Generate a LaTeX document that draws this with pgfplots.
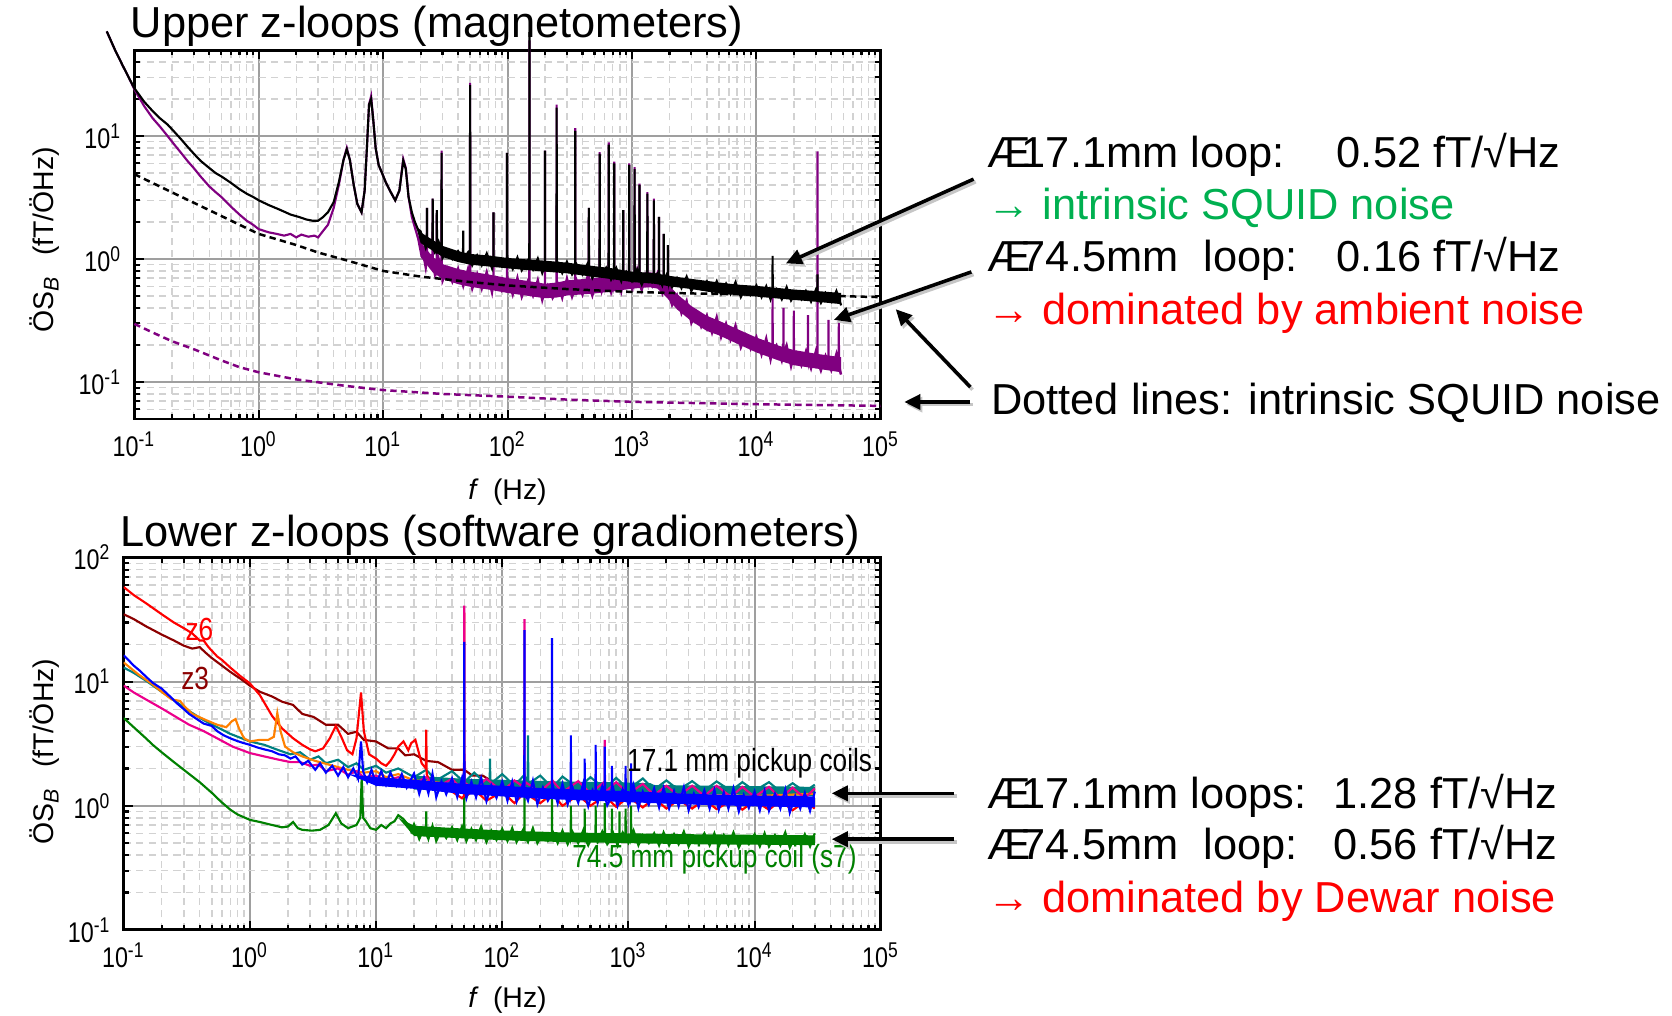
\documentclass[border=0pt]{standalone}
\usepackage{fontspec}
\setmainfont{Liberation Sans}
\newfontfamily\narrowfont[FakeStretch=0.82]{Liberation Sans}
\usepackage{pgfplots}
\pgfplotsset{compat=1.18}
\usetikzlibrary{arrows.meta}
\definecolor{upurple}{RGB}{128,0,128}
\definecolor{dkred}{RGB}{140,0,0}
\definecolor{tealc}{RGB}{0,128,128}
\definecolor{orangec}{RGB}{255,128,0}
\definecolor{greenc}{RGB}{0,128,0}
\definecolor{txtgreen}{RGB}{0,176,80}
\newcommand\bigf{\fontsize{12.2pt}{14pt}\selectfont}
\newcommand\labf{\fontsize{8pt}{9pt}\selectfont}
\begin{document}
\begin{tikzpicture}
%================ UPPER =================
\begin{axis}[at={(37.8pt,167.7pt)}, anchor=south west, scale only axis, width=210pt, height=103.8pt,
  xmode=log, ymode=log, xmin=0.1, xmax=1e5, ymin=0.05, ymax=50, clip=false,
  axis line style={line width=0.8pt}, grid=both,
  major grid style={draw=gray!75, line width=0.6pt},
  minor grid style={draw=gray!35, dash pattern=on 2pt off 1.5pt, line width=0.4pt},
  major tick length=2.6pt, minor tick length=1.5pt,
  tick style={black, line width=0.6pt},
  tick label style={font=\narrowfont\labf},
  log number format basis/.code 2 args={#1\textsuperscript{\pgfmathprintnumber[assume math mode=true]{#2}}}]
% 74.5 mm loop: noise band
\addplot[fill=upurple, draw=none] coordinates {(18,1.8) (20,1.38) (25,1.04) (30,0.91) (40,0.83) (50,0.79) (70,0.75) (100,0.70) (150,0.66) (200,0.63) (250,0.645) (300,0.67) (500,0.70) (700,0.72) (1000,0.76) (1400,0.78) (1600,0.76) (1900,0.645) (2300,0.52) (3000,0.415) (4000,0.345) (5000,0.315) (7000,0.27) (10000,0.23) (15000,0.198) (20000,0.182) (30000,0.17) (48000,0.159)
 (48000,0.12) (30000,0.129) (20000,0.137) (15000,0.15) (10000,0.174) (7000,0.205) (5000,0.24) (4000,0.26) (3000,0.313) (2300,0.39) (1900,0.487) (1600,0.575) (1400,0.59) (1000,0.575) (700,0.545) (500,0.525) (300,0.505) (250,0.487) (200,0.48) (150,0.5) (100,0.53) (70,0.565) (50,0.595) (40,0.625) (30,0.69) (25,0.78) (20,1.04)};
% 74.5 mm loop (purple)
\addplot[upurple, line width=0.6pt] coordinates {(0.06,71) (0.07,50) (0.08,38) (0.09,30) (0.1,24) (0.12,17.5) (0.14,14) (0.16,12) (0.185,10) (0.21,8.5) (0.24,7.2) (0.27,6.2) (0.3,5.5) (0.34,4.7) (0.4,3.9) (0.45,3.5) (0.5,3.2) (0.59,2.7) (0.7,2.3) (0.8,2.05) (0.9,1.9) (1,1.75) (1.2,1.65) (1.4,1.6) (1.6,1.55) (1.8,1.6) (2,1.5) (2.2,1.58) (2.5,1.52) (2.8,1.55) (3,1.5) (3.3,1.7) (3.6,1.9) (4,2.6) (4.4,4.0) (4.8,6.4) (5.1,8.0) (5.4,6.4) (5.8,4.0) (6.2,2.8) (6.7,2.4) (7.1,3.6) (7.4,8) (7.7,18) (8,21) (8.3,14) (8.7,8) (9.2,5.8) (9.8,5) (10.5,4.2) (11.5,3.5) (12.5,3.0) (13.5,3.6) (14.5,6.5) (15.2,5.5) (16,3.2) (17,2.2) (18,1.8) (19,1.5)
(20,1.44) (22,0.84) (22.4,0.95) (22.5,2.6) (22.6,0.95) (24,1.05) (24.9,0.9) (25,3.1) (25.1,0.9) (26,0.75) (26.9,0.85) (27,2.5) (27.1,0.85) (28,1.00) (29.4,0.8) (29.5,7.6) (29.6,0.8) (30,0.66) (33,0.84) (36,0.65) (40,0.84) (44,0.60) (48,0.83) (49.8,0.68) (50,27) (50.2,0.68) (52,0.57) (57,0.76) (62,0.57) (68,0.79) (75,0.53) (76.8,0.64) (77,2.4) (77.2,0.64) (82,0.69) (90,0.55) (98.7,0.61) (99,7.3) (99.3,0.61) (100,0.71) (110,0.51) (120,0.71) (130,0.49) (145,0.66) (149.5,0.58) (150,60) (150.5,0.58) (160,0.50) (175,0.68) (190,0.46) (199.4,0.55) (200,7.6) (200.6,0.55) (210,0.61) (230,0.48) (247.3,0.55) (248,18) (248.7,0.55) (250,0.66) (275,0.48) (300,0.70) (330,0.49) (349,0.58) (350,11.6) (351,0.58) (360,0.67) (400,0.51) (440,0.73) (448.7,0.6) (450,2.6) (451.3,0.6) (480,0.50) (520,0.67) (548.4,0.61) (550,7.4) (551.6,0.61) (570,0.54) (620,0.73) (648,0.62) (650,8.9) (652,0.62) (680,0.53) (718,0.63) (720,6.2) (722,0.63) (750,0.76) (820,0.54) (847.5,0.64) (850,2.5) (852.5,0.64) (900,0.74) (947,0.65) (950,6.0) (953,0.65) (1000,0.57) (1047,0.66) (1050,5.6) (1053,0.66) (1100,0.82) (1147,0.67) (1150,4.1) (1153,0.67) (1200,0.56) (1300,0.75) (1326,0.68) (1330,3.5) (1334,0.68) (1450,0.60) (1496,0.67) (1500,3.1) (1504,0.67) (1600,0.77) (1645,0.64) (1650,2.2) (1655,0.64) (1750,0.53) (1795,0.6) (1800,1.6) (1805,0.6) (1900,0.67) (1945,0.53) (1950,1.3) (1955,0.53) (2100,0.42) (2300,0.51) (2500,0.36) (2750,0.46) (3000,0.30) (3300,0.37) (3600,0.28) (4000,0.35) (4400,0.25) (4800,0.34) (5200,0.23) (5700,0.30) (6200,0.22) (6800,0.29) (7500,0.19) (8200,0.24) (9000,0.185) (10000,0.234) (11000,0.166) (12000,0.228) (13000,0.151) (13460,0.18) (13500,0.5) (13540,0.18) (14500,0.20) (16000,0.148) (16450,0.17) (16500,0.4) (16550,0.17) (17500,0.20) (19000,0.133) (19940,0.16) (20000,0.38) (20060,0.16) (21000,0.173) (23000,0.136) (25000,0.178) (25920,0.15) (26000,0.35) (26080,0.15) (27500,0.128) (30000,0.178) (30900,0.147) (31000,7.5) (31100,0.147) (33000,0.123) (36000,0.164) (37880,0.143) (38000,0.32) (38120,0.143) (40000,0.124) (44000,0.171) (45860,0.139) (46000,0.32) (46140,0.139) (48000,0.115)};
% intrinsic noise 17.1 mm (black dashed)
\addplot[black, line width=0.7pt, dash pattern=on 1.8pt off 1.2pt] coordinates {(0.1,4.9) (0.2,3.49) (0.3,2.87) (0.5,2.24) (0.7,1.9) (1,1.6) (2,1.3) (3,1.13) (5,0.98) (10,0.8) (20,0.72) (50,0.65) (100,0.61) (300,0.57) (1000,0.54) (3000,0.525) (10000,0.515) (30000,0.505) (100000,0.49)};
% 17.1 mm loop: noise band
\addplot[fill=black, draw=none] coordinates {(18,2.0) (20,1.65) (25,1.43) (30,1.28) (40,1.16) (50,1.1) (70,1.07) (100,1.02) (150,0.99) (200,0.97) (300,0.935) (500,0.875) (700,0.84) (1000,0.79) (1500,0.77) (2000,0.73) (3000,0.69) (5000,0.645) (7000,0.62) (10000,0.605) (20000,0.565) (30000,0.55) (48000,0.53)
 (48000,0.43) (30000,0.45) (20000,0.465) (10000,0.495) (7000,0.51) (5000,0.525) (3000,0.57) (2000,0.6) (1500,0.63) (1000,0.65) (700,0.685) (500,0.715) (300,0.765) (200,0.79) (150,0.81) (100,0.84) (70,0.87) (50,0.9) (40,0.945) (30,1.04) (25,1.17) (20,1.35)};
% 17.1 mm loop (black)
\addplot[black, line width=0.6pt] coordinates {(0.06,71) (0.07,50) (0.08,38) (0.09,30) (0.1,24.5) (0.12,19) (0.14,16) (0.16,14) (0.185,12.4) (0.21,10.8) (0.24,9.3) (0.27,8.1) (0.3,7.2) (0.34,6.3) (0.4,5.5) (0.45,5.0) (0.5,4.7) (0.59,4.2) (0.7,3.7) (0.8,3.4) (0.9,3.2) (1,3.0) (1.2,2.75) (1.5,2.5) (1.8,2.3) (2.1,2.2) (2.4,2.1) (2.7,2.05) (3,2.05) (3.3,2.2) (3.6,2.4) (4,2.9) (4.4,4.2) (4.8,6.4) (5.1,7.8) (5.4,6.4) (5.8,4.0) (6.2,2.8) (6.7,2.4) (7.1,3.6) (7.4,8) (7.7,18) (8,20) (8.3,14) (8.7,8) (9.2,5.8) (9.8,5) (10.5,4.2) (11.5,3.5) (12.5,3.0) (13.5,3.6) (14.5,6.3) (15.2,5.4) (16,3.2) (17,2.4) (18,2.0) (19,1.75)
(20,1.68) (22,1.23) (22.4,1.3) (22.5,2.6) (22.6,1.3) (24,1.40) (24.9,1.27) (25,3.1) (25.1,1.27) (26,1.14) (26.9,1.22) (27,2.5) (27.1,1.22) (28,1.37) (29.4,1.17) (29.5,7.3) (29.6,1.17) (30,1.02) (33,1.18) (36,1.00) (40,1.16) (43.8,1.0) (44,1.7) (44.2,1.0) (48,1.13) (49.8,1.0) (50,26) (50.2,1.0) (52,0.89) (57,1.07) (62,0.89) (68,1.11) (75,0.84) (76.8,0.96) (77,2.4) (77.2,0.96) (82,1.00) (90,0.87) (98.7,0.93) (99,7.3) (99.3,0.93) (100,1.02) (110,0.83) (120,1.03) (130,0.81) (145,0.97) (149.5,0.9) (150,70) (150.5,0.9) (160,0.82) (175,1.01) (190,0.77) (199.4,0.88) (200,7.6) (200.6,0.88) (210,0.92) (230,0.81) (247.3,0.87) (248,17) (248.7,0.87) (250,0.96) (275,0.77) (300,0.95) (330,0.75) (349,0.83) (350,11) (351,0.83) (360,0.90) (400,0.75) (440,0.92) (448.7,0.81) (450,2.6) (451.3,0.81) (480,0.70) (520,0.83) (548.4,0.78) (550,7.2) (551.6,0.78) (570,0.73) (620,0.85) (648,0.77) (650,8.5) (652,0.77) (680,0.68) (718,0.75) (720,6.0) (722,0.75) (750,0.84) (820,0.66) (847.5,0.74) (850,2.5) (852.5,0.74) (900,0.79) (947,0.72) (950,5.8) (953,0.72) (1000,0.66) (1047,0.72) (1050,5.4) (1053,0.72) (1100,0.82) (1147,0.71) (1150,4.0) (1153,0.71) (1200,0.62) (1300,0.75) (1326,0.71) (1330,3.4) (1334,0.71) (1450,0.65) (1496,0.7) (1500,3.0) (1504,0.7) (1600,0.76) (1645,0.69) (1650,2.2) (1655,0.69) (1750,0.61) (1795,0.68) (1800,1.6) (1805,0.68) (1900,0.75) (1945,0.67) (1950,1.3) (1955,0.67) (2100,0.59) (2300,0.70) (2500,0.58) (2750,0.72) (3000,0.55) (3300,0.65) (3600,0.57) (4000,0.66) (4400,0.54) (4800,0.66) (5200,0.52) (5700,0.63) (6200,0.52) (6800,0.65) (7500,0.49) (8200,0.59) (9000,0.51) (10000,0.61) (11000,0.49) (12000,0.60) (13000,0.47) (13460,0.53) (13500,1.06) (13540,0.53) (14500,0.57) (16000,0.47) (17500,0.59) (19000,0.46) (21000,0.54) (23000,0.47) (25000,0.55) (27500,0.45) (30000,0.56) (30900,0.5) (31000,0.75) (31100,0.5) (33000,0.44) (36000,0.53) (40000,0.45) (44000,0.55) (48000,0.42)};
% intrinsic noise 74.5 mm (purple dashed)
\addplot[upurple, line width=0.7pt, dash pattern=on 1.8pt off 1.2pt] coordinates {(0.1,0.297) (0.15,0.245) (0.2,0.215) (0.3,0.185) (0.5,0.15) (0.7,0.132) (1,0.12) (2,0.105) (5,0.093) (10,0.086) (30,0.08) (100,0.076) (300,0.072) (1000,0.069) (10000,0.066) (100000,0.064)};
\end{axis}
%================ LOWER =================
\begin{axis}[at={(34.8pt,24pt)}, anchor=south west, scale only axis, width=213pt, height=104.7pt,
  xmode=log, ymode=log, xmin=0.1, xmax=1e5, ymin=0.1, ymax=100,
  axis line style={line width=0.8pt}, grid=both,
  major grid style={draw=gray!75, line width=0.6pt},
  minor grid style={draw=gray!35, dash pattern=on 2pt off 1.5pt, line width=0.4pt},
  major tick length=2.6pt, minor tick length=1.5pt,
  tick style={black, line width=0.6pt},
  tick label style={font=\narrowfont\labf},
  log number format basis/.code 2 args={#1\textsuperscript{\pgfmathprintnumber[assume math mode=true]{#2}}}]
% s7 (green): noise band
\addplot[fill=greenc, draw=none] coordinates {(15,0.8) (20,0.69) (50,0.655) (100,0.632) (300,0.61) (1000,0.6) (3000,0.59) (30000,0.578) (30000,0.482) (3000,0.49) (1000,0.5) (300,0.51) (100,0.528) (50,0.546) (20,0.57)};
% s7 (green)
\addplot[greenc, line width=0.6pt] coordinates {(0.1,5.1) (0.12,4.3) (0.15,3.5) (0.17,3.1) (0.2,2.7) (0.25,2.25) (0.32,1.85) (0.4,1.55) (0.5,1.27) (0.59,1.08) (0.7,0.93) (0.8,0.85) (1,0.77) (1.2,0.74) (1.5,0.7) (1.8,0.67) (2,0.68) (2.2,0.74) (2.4,0.66) (2.6,0.64) (3.1,0.63) (3.6,0.64) (4.2,0.7) (4.8,0.87) (5.3,0.72) (6,0.66) (7,0.7) (7.5,0.8) (7.7,1.7) (7.9,0.8) (8.3,0.75) (9,0.66) (10,0.64) (11,0.7) (12,0.66) (13,0.72) (14,0.75) (15,0.84) (16.5,0.78) (18,0.7) (19,0.62)
(20,0.71) (22,0.54) (24,0.66) (24.9,0.6) (25,0.9) (25.1,0.6) (26,0.54) (28,0.69) (30,0.52) (33,0.64) (36,0.55) (40,0.67) (44,0.53) (48,0.68) (49.8,0.6) (50,1.3) (50.2,0.6) (52,0.52) (57,0.65) (62,0.53) (68,0.68) (75,0.51) (82,0.63) (90,0.53) (100,0.65) (110,0.52) (120,0.66) (130,0.51) (145,0.63) (149.5,0.57) (150,1.2) (150.5,0.57) (160,0.51) (175,0.66) (190,0.50) (210,0.60) (230,0.52) (247.3,0.56) (248,1.15) (248.7,0.56) (250,0.63) (275,0.50) (300,0.63) (330,0.49) (349,0.56) (350,1.0) (351,0.56) (360,0.62) (400,0.50) (440,0.64) (448.7,0.55) (450,0.95) (451.3,0.55) (480,0.48) (520,0.58) (548.4,0.55) (550,1.0) (551.6,0.55) (570,0.51) (620,0.62) (648,0.55) (650,1.05) (652,0.55) (680,0.49) (738,0.55) (740,0.95) (742,0.55) (750,0.62) (820,0.48) (847.5,0.55) (850,0.9) (852.5,0.55) (900,0.61) (947,0.55) (950,0.95) (953,0.55) (1000,0.50) (1047,0.55) (1050,1.0) (1053,0.55) (1100,0.63) (1200,0.48) (1300,0.58) (1450,0.50) (1600,0.60) (1750,0.48) (1900,0.61) (2100,0.48) (2300,0.59) (2500,0.49) (2750,0.62) (3000,0.47) (3300,0.57) (3600,0.50) (4000,0.60) (4400,0.48) (4800,0.60) (5200,0.47) (5700,0.58) (6200,0.48) (6800,0.61) (7500,0.46) (8200,0.56) (9000,0.49) (10000,0.59) (11000,0.47) (12000,0.60) (13000,0.47) (14500,0.58) (16000,0.48) (17500,0.61) (19000,0.46) (21000,0.56) (23000,0.49) (25000,0.59) (27500,0.47) (30000,0.60)};
% z3 (dark red)
\addplot[dkred, line width=0.6pt] coordinates {(0.1,35) (0.12,32) (0.15,28) (0.2,24) (0.25,21.5) (0.3,19.5) (0.35,18.5) (0.4,19) (0.45,17) (0.5,15.5) (0.6,13.5) (0.7,12) (0.85,10.5) (1,9.3) (1.2,8.3) (1.5,7.6) (1.8,6.9) (2.2,6.5) (2.6,5.5) (3.2,5.2) (4,4.5) (5,4.5) (6,3.8) (7,3.95) (8,3.4) (10,3.3) (12.5,2.9) (15,2.9) (17,2.55) (20,2.6) (25,2.3) (31,2.25) (40,1.95) (50,1.95) (58,1.75) (70,1.75) (85,1.55) (100,1.55) (130,1.4) (160,1.38) (200,1.3) (250,1.35) (300,1.25) (400,1.3) (500,1.2) (650,1.28) (800,1.18) (1000,1.25) (1300,1.16) (1600,1.22) (2000,1.15) (2500,1.2) (3200,1.13) (4000,1.18) (5000,1.12) (6500,1.17) (8000,1.1) (10000,1.15) (13000,1.1) (16000,1.14) (20000,1.08) (25000,1.12) (30000,1.1)};
% teal: noise band
\addplot[fill=tealc, draw=none] coordinates {(20,1.75) (50,1.65) (100,1.62) (300,1.57) (1000,1.54) (1500,1.52) (1600,1.47) (3000,1.46) (10000,1.44) (30000,1.42) (30000,1.2) (20,1.35)};
% teal
\addplot[tealc, line width=0.6pt] coordinates {(0.1,13) (0.12,11.8) (0.15,10.2) (0.2,8.3) (0.26,6.9) (0.33,5.8) (0.43,4.9) (0.55,4.3) (0.7,3.8) (1,3.3) (1.3,3.1) (1.7,2.8) (2.1,2.6) (2.5,2.7) (3,2.35) (3.5,2.5) (4,2.2) (5,2.35) (6,2.05) (7,2.2) (8,1.95) (10,2.1) (12,1.85) (15,2.0) (20,1.7) (25,1.95) (30,1.6) (40,1.9) (50,1.55) (60,1.85) (75,1.5) (79.5,1.5) (80,2.4) (80.5,1.5) (100,1.8) (125,1.45) (150,1.78) (159,1.45) (160,3.7) (161,1.5) (200,1.75) (250,1.4) (300,1.72) (400,1.38) (500,1.7) (650,1.37) (800,1.68) (1000,1.36) (1300,1.66) (1600,1.35) (2000,1.6) (2500,1.34) (3200,1.58) (4000,1.33) (5000,1.57) (6500,1.32) (8000,1.55) (10000,1.32) (13000,1.55) (16000,1.3) (20000,1.52) (25000,1.3) (30000,1.48)};
% z6 (red)
\addplot[red, line width=0.6pt] coordinates {(0.1,58) (0.12,50) (0.15,43) (0.2,35) (0.25,30) (0.3,27) (0.35,24.5) (0.4,21.5) (0.43,21.5) (0.47,19) (0.55,16) (0.6,15) (0.7,13) (0.85,11) (1,9.7) (1.2,7.8) (1.5,5.3) (1.8,4.2) (2.2,3.5) (2.6,3.1) (3,2.85) (3.3,2.75) (3.8,2.9) (4.3,3.5) (4.8,4.4) (5.3,3.6) (5.9,2.8) (6.5,2.6) (7,3.5) (7.6,8.2) (8,4) (8.8,2.6) (10,2.4) (11,2.2) (12,2.1) (13,2.3) (14,2.6) (15,3.0) (16.5,3.3) (18,2.8) (19,3.2) (20.5,3.4) (22,2.6) (23,2.2) (24.8,2.0) (25,4.1) (25.2,1.8) (27,1.5) (30,1.45) (40,1.3) (48,1.15) (49.8,1.2) (50,36) (50.2,1.2) (52,1.2) (60,1.35) (75,1.1) (100,1.3) (125,1.05) (150,1.28) (200,1.05) (250,1.25) (300,1.0) (400,1.22) (500,1.0) (650,1.2) (800,0.98) (1000,1.18) (1300,0.97) (1600,1.15) (2000,0.95) (2500,1.12) (3200,0.95) (4000,1.12) (5000,0.94) (6500,1.1) (8000,0.93) (10000,1.1) (13000,0.93) (16000,1.1) (20000,0.92) (25000,1.08) (30000,0.95)};
% orange
\addplot[orangec, line width=0.6pt] coordinates {(0.1,14.3) (0.13,11.5) (0.17,9.5) (0.2,8.3) (0.24,7.2) (0.28,7.0) (0.3,6.4) (0.35,5.5) (0.45,4.9) (0.55,4.5) (0.65,4.3) (0.72,4.8) (0.77,5.0) (0.82,4.2) (0.9,3.5) (1,3.3) (1.2,3.4) (1.4,3.4) (1.55,3.6) (1.65,5.6) (1.75,4.0) (1.9,3.0) (2.2,2.7) (2.6,2.5) (3.3,2.3) (4.2,2.15) (5,2.05) (6,1.95) (8,1.85) (10,1.9) (12,1.7) (15,1.8) (20,1.6) (30,1.55) (50,1.4) (100,1.4) (200,1.3) (500,1.3) (1000,1.25) (3000,1.22) (10000,1.2) (30000,1.25)};
% magenta
\addplot[magenta, line width=0.6pt] coordinates {(0.1,9.3) (0.12,8.2) (0.15,7.2) (0.2,6.1) (0.26,5.2) (0.33,4.5) (0.43,4.0) (0.55,3.5) (0.73,3.0) (1,2.66) (1.3,2.5) (1.7,2.35) (2.1,2.25) (2.5,2.25) (3,2.1) (3.5,2.15) (4,1.9) (5,2.0) (6,1.78) (7,1.9) (8,1.7) (10,1.75) (12,1.6) (15,1.7) (20,1.5) (25,1.7) (30,1.4) (40,1.65) (48,1.35) (49.8,1.4) (50,41) (50.2,1.4) (52,1.5) (60,1.35) (75,1.65) (100,1.3) (125,1.6) (149.5,1.4) (150,32) (150.5,1.4) (152,1.55) (200,1.3) (250,1.6) (300,1.28) (400,1.58) (500,1.26) (640,1.55) (648,1.35) (650,3.4) (652,1.35) (660,1.3) (800,1.55) (1000,1.25) (1300,1.5) (1600,1.22) (2000,1.45) (2500,1.2) (3200,1.45) (4000,1.2) (5000,1.45) (6500,1.18) (8000,1.42) (10000,1.18) (13000,1.42) (16000,1.15) (20000,1.4) (25000,1.15) (30000,1.38)};
% blue: noise band
\addplot[fill=blue, draw=none] coordinates {(6,1.8) (10,1.7) (20,1.62) (50,1.5) (100,1.45) (200,1.39) (500,1.34) (1000,1.31) (2000,1.27) (5000,1.23) (10000,1.21) (30000,1.19) (30000,0.97) (10000,0.99) (5000,1.01) (2000,1.04) (1000,1.07) (500,1.1) (200,1.14) (100,1.19) (50,1.24) (20,1.37) (10,1.45)};
% blue
\addplot[blue, line width=0.6pt] coordinates {(0.1,16.3) (0.11,14.8) (0.12,13.5) (0.135,12.2) (0.15,11) (0.17,9.8) (0.2,8.8) (0.23,7.7) (0.26,6.8) (0.3,6.0) (0.33,5.5) (0.38,5.0) (0.43,4.6) (0.5,4.4) (0.55,4.0) (0.62,3.7) (0.7,3.5) (0.78,3.35) (0.85,3.25) (1,3.1) (1.15,2.95) (1.3,2.85) (1.5,2.75) (1.7,2.6) (1.9,2.55) (2.1,2.4) (2.3,2.5) (2.6,2.15) (2.9,2.3) (3.3,1.95) (3.6,2.2) (4,1.85) (4.5,2.1) (5,1.75) (5.5,2.05) (6,1.7) (6.6,2.0) (7.2,1.65) (7.6,3.3) (7.9,1.9) (8.5,1.55) (9.2,1.95) (10,1.5) (11,1.9) (12,1.48) (13,1.85) (14.5,1.45) (16,1.8) (17.5,1.4)
(20,1.82) (22,1.25) (24,1.69) (26,1.26) (28,1.81) (30,1.17) (33,1.57) (36,1.24) (40,1.66) (44,1.18) (48,1.67) (49.8,1.38) (50,21) (50.2,1.38) (52,1.15) (57,1.56) (62,1.17) (68,1.67) (75,1.09) (82,1.46) (90,1.16) (100,1.56) (110,1.10) (120,1.56) (130,1.08) (145,1.47) (149.5,1.29) (150,26) (150.5,1.29) (160,1.10) (175,1.59) (190,1.03) (210,1.40) (230,1.10) (247.3,1.26) (248,22.5) (248.7,1.26) (250,1.49) (275,1.05) (300,1.50) (330,1.03) (349,1.24) (350,3.7) (351,1.24) (360,1.41) (400,1.06) (440,1.53) (448.7,1.23) (450,2.4) (451.3,1.23) (480,0.99) (520,1.34) (548.4,1.22) (550,3.1) (551.6,1.22) (570,1.05) (620,1.43) (648,1.21) (650,3.0) (652,1.21) (680,1.01) (738,1.2) (740,2.1) (742,1.2) (750,1.44) (820,1.00) (900,1.36) (947,1.19) (950,2.1) (953,1.19) (1000,1.02) (1047,1.19) (1050,2.2) (1053,1.19) (1100,1.46) (1200,0.96) (1300,1.30) (1450,1.02) (1600,1.38) (1750,0.97) (1900,1.39) (2100,0.95) (2300,1.31) (2500,0.99) (2750,1.41) (3000,0.92) (3300,1.25) (3600,0.98) (4000,1.33) (4400,0.95) (4800,1.34) (5200,0.93) (5700,1.28) (6200,0.95) (6800,1.38) (7500,0.90) (8200,1.22) (9000,0.96) (10000,1.30) (11000,0.92) (12000,1.32) (13000,0.91) (14500,1.25) (16000,0.95) (17500,1.35) (19000,0.88) (21000,1.20) (23000,0.95) (25000,1.27) (27500,0.91) (30000,1.30)};
\end{axis}
%================ ANNOTATIONS (pixel frame) =================
\begin{scope}[x=0.3pt,y=-0.3pt,shift={(0pt,285.6pt)}]
\tikzset{arr/.style={line width=1pt, -{Triangle[length=4.5pt,width=4.2pt]}},
         sh/.style={line width=1pt, draw=gray!45, -{Triangle[length=4.5pt,width=4.2pt]}},
         big/.style={anchor=base west, font=\bigf, inner sep=0}}
\node[anchor=west, font=\bigf, inner sep=0] at (122,25) {Upper z-loops (magnetometers)};
\node[anchor=west, font=\bigf, inner sep=0] at (112,502) {Lower z-loops (software gradiometers)};
\node[rotate=90, font=\labf, inner sep=0] at (42,225) {ÖS\textsubscript{\textit{B}}\hspace{0.7em}(fT/ÖHz)};
\node[rotate=90, font=\labf, inner sep=0] at (42,705) {ÖS\textsubscript{\textit{B}}\hspace{0.7em}(fT/ÖHz)};
\node[font=\labf, inner sep=0] at (476,462) {\textit{f}\hspace{0.5em}(Hz)};
\node[font=\labf, inner sep=0] at (476,938) {\textit{f}\hspace{0.5em}(Hz)};
\node[font=\narrowfont\fontsize{9pt}{10pt}\selectfont, text=red, inner sep=0] at (187,590) {z6};
\node[font=\narrowfont\fontsize{9pt}{10pt}\selectfont, text=dkred, inner sep=0] at (183,636) {z3};
\node[font=\narrowfont\fontsize{9pt}{10pt}\selectfont, inner sep=0] at (703,716) {17.1 mm pickup coils};
\node[font=\narrowfont\fontsize{9pt}{10pt}\selectfont, text=greenc, inner sep=0] at (670,806) {74.5 mm pickup coil (s7)};
\node[big] at (925,157.5) {Æ\kern-0.2em17.1mm loop:};
\node[big] at (1253,157.5) {0.52 fT/√Hz};
\node[big, text=txtgreen] at (925,205.5) {→ intrinsic SQUID noise};
\node[big] at (925,254.5) {Æ\kern-0.2em74.5mm\hspace{0.3em} loop:};
\node[big] at (1253,254.5) {0.16 fT/√Hz};
\node[big, text=red] at (925,304.5) {→ dominated by ambient noise};
\node[big] at (929,388.5) {Dotted lines: intrinsic SQUID noise};
\node[big] at (925,758.5) {Æ\kern-0.2em17.1mm loops:};
\node[big] at (1250,758.5) {1.28 fT/√Hz};
\node[big] at (925,806.5) {Æ\kern-0.2em74.5mm\hspace{0.3em} loop:};
\node[big] at (1250,806.5) {0.56 fT/√Hz};
\node[big, text=red] at (925,855.5) {→ dominated by Dewar noise};
\draw[sh] (915,170.5) -- (739,249.5); \draw[arr] (913,168) -- (737,247);
\draw[sh] (913,257.5) -- (784,302.5); \draw[arr] (911,255) -- (782,300);
\draw[sh] (912,365.5) -- (842,292.5); \draw[arr] (910,363) -- (840,290);
\draw[sh] (912,379.5) -- (850,379.5); \draw[arr] (910,377) -- (848,377);
\draw[sh] (897,746.5) -- (782,746.5); \draw[arr] (895,744) -- (780,744);
\draw[sh] (897,789.5) -- (782,789.5); \draw[arr] (895,787) -- (780,787);
\end{scope}
\pgfresetboundingbox
\useasboundingbox (0,0) rectangle (470.4pt,285.6pt);
\end{tikzpicture}
\end{document}
